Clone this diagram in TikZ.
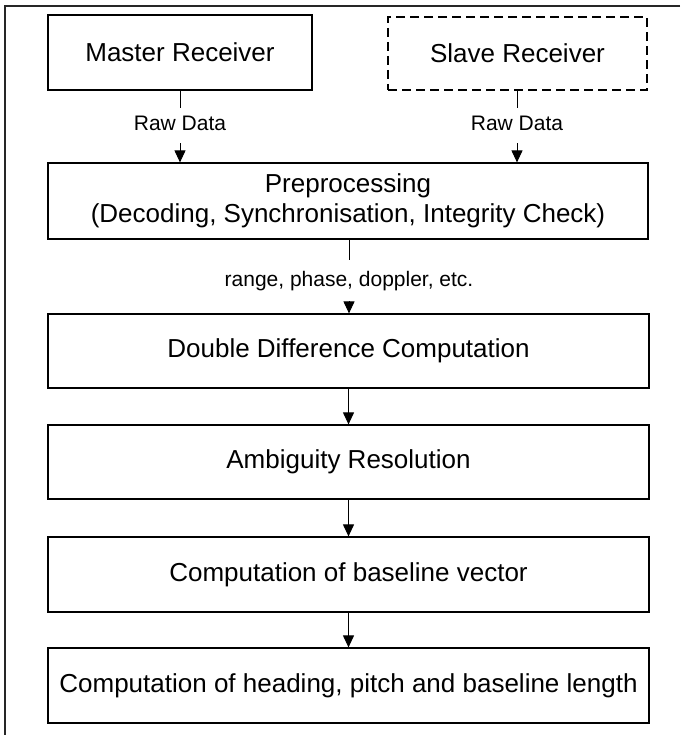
\documentclass[tikz,border=0pt]{standalone}
\usepackage{fontspec}
\setmainfont{Liberation Sans}
\usetikzlibrary{arrows.meta}
\begin{document}
\begin{tikzpicture}[x=1pt,y=-1pt,
 box/.style={draw, line width=1.2pt, inner sep=0pt, font=\fontsize{26}{30}\selectfont, align=center},
 lbl/.style={inner sep=0pt, font=\fontsize{21}{25}\selectfont, text height=15pt, text depth=4pt},
 arr/.style={line width=1pt, -{Triangle[length=12pt,width=11pt]}},
 ln/.style={line width=1pt}]
\useasboundingbox (0,0) rectangle (680,735);
\draw[line width=1.5pt, black!85] (680,6) -- (5,6) -- (5,735);

\node[box, minimum width=264pt, minimum height=75pt] (m) at (180,52.5) {Master Receiver};
\node[box, dash pattern=on 9pt off 5pt, minimum width=259pt, minimum height=73pt] (s) at (517.5,53.5) {Slave Receiver};
\node[box, minimum width=600pt, minimum height=76pt] (pre) at (348,201) {Preprocessing\\(Decoding, Synchronisation, Integrity Check)};
\node[box, minimum width=601pt, minimum height=74pt] (dd) at (348.5,351) {Double Difference Computation};
\node[box, minimum width=601pt, minimum height=74pt] (amb) at (348.5,462) {Ambiguity Resolution};
\node[box, minimum width=601pt, minimum height=75pt] (base) at (348.5,574.5) {Computation of baseline vector};
\node[box, minimum width=601pt, minimum height=75pt] (last) at (348.5,685.5) {Computation of heading, pitch and baseline length};

\node[lbl, minimum height=35pt] (l1) at (180,125.5) {Raw Data};
\node[lbl, minimum height=35pt] (l2) at (517,125.5) {Raw Data};
\node[lbl, minimum height=41pt] (l3) at (349,280.5) {range, phase, doppler, etc.};

\draw[ln] (l1 |- m.south) -- (l1);
\draw[arr] (l1) -- (l1 |- pre.north);
\draw[ln] (l2 |- s.south) -- (l2);
\draw[arr] (l2) -- (l2 |- pre.north);
\draw[ln] (l3 |- pre.south) -- (l3);
\draw[arr] (l3) -- (l3 |- dd.north);
\draw[arr] (dd) -- (amb);
\draw[arr] (amb) -- (base);
\draw[arr] (base) -- (last);
\end{tikzpicture}
\end{document}
